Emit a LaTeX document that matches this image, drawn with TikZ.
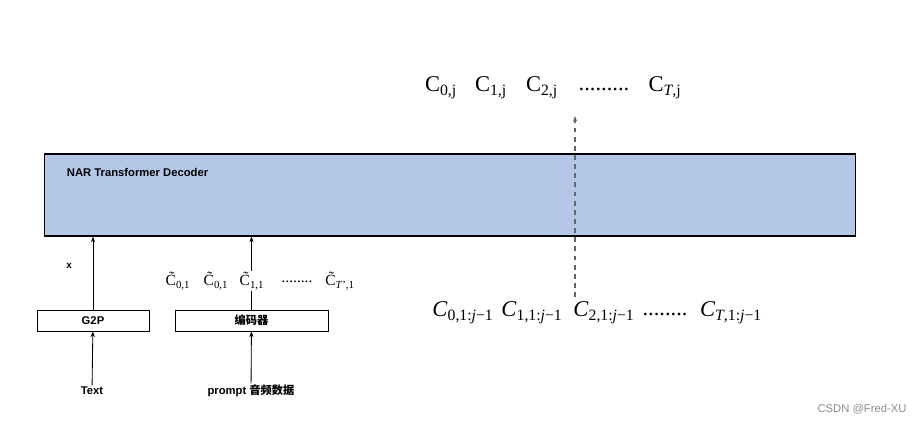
\documentclass[tikz,border=0pt]{standalone}
\usepackage{fontspec}
\setmainfont{Liberation Serif}
\setsansfont{Liberation Sans}
\newfontfamily\cjk{Noto Sans CJK SC}
\usetikzlibrary{arrows.meta,positioning}

\definecolor{decblue}{RGB}{180,199,231}
\newcommand{\smalltext}{\fontsize{8}{9.6}\selectfont\sffamily\bfseries}
\newcommand{\bigC}{\fontsize{16}{19}\selectfont\rmfamily}
\newcommand{\tildeC}{\fontsize{11}{13}\selectfont\rmfamily}

\begin{document}
\begin{tikzpicture}[
    x=0.025cm, y=-0.025cm,
    decbox/.style={rectangle, draw=black, fill=decblue, line width=0.8pt, minimum width=20.25cm, minimum height=2.05cm},
    inbox/.style={rectangle, draw=black, line width=0.6pt, minimum height=0.525cm, font=\smalltext},
    lbl/.style={inner sep=1pt, font=\smalltext},
    toplbl/.style={inner sep=1pt, font=\bigC},
    botlbl/.style={inner sep=1pt, font=\bigC},
    tlbl/.style={inner sep=1pt, fill=white, font=\tildeC},
    arr/.style={-{Stealth[length=4pt,width=3pt]}, line width=0.6pt},
    dasharr/.style={-{Stealth[length=4pt,width=3pt]}, line width=1pt, black!60, dash pattern=on 3.5pt off 3pt}
]
\useasboundingbox (0,0) rectangle (924,423);

% decoder
\node[decbox] (dec) at (450,195) {};
\node[anchor=west, font=\smalltext] (declbl) at (62,172) {NAR Transformer Decoder};

% inputs
\node[inbox, minimum width=2.8cm] (g2p) at (93,320.5) {G2P};
\node[inbox, minimum width=3.825cm] (enc) at (251.5,320.5) {\cjk 编码器};
\node[lbl] (txt) at (92,391) {Text};
\node[lbl] (prm) at (251,391) {prompt {\cjk 音频数据}};
\node[lbl, font=\fontsize{7}{8}\selectfont\sffamily\bfseries] (xlbl) at (69,266) {x};

\draw[arr] (txt) -- (g2p);
\draw[arr] (prm) -- (enc);
\draw[arr] (g2p) -- (g2p |- dec.south);
\draw[arr] (enc) -- (enc |- dec.south);

% prompt codes
\node[tlbl] (t0) at (178,281) {\~C\textsubscript{0,1}};
\node[tlbl] (t1) at (216,281) {\~C\textsubscript{0,1}};
\node[tlbl] (t2) at (252,281) {\~C\textsubscript{1,1}};
\node[tlbl] (tdots) at (297,282) {........};
\node[tlbl] (tT) at (340,281) {\~C\textsubscript{\textit{T}',1}};

% target codes (top)
\node[toplbl] (c0) at (441,88) {C\textsubscript{0,j}};
\node[toplbl] (c1) at (491,88) {C\textsubscript{1,j}};
\node[toplbl] (c2) at (542,88) {C\textsubscript{2,j}};
\node[toplbl] (cdots) at (604,89) {.........};
\node[toplbl] (cT) at (665,88) {C\textsubscript{\textit{T},j}};

% previous codes (bottom)
\node[botlbl] (b0) at (463,313) {\textit{C}\textsubscript{0,1:\textit{j}−1}};
\node[botlbl] (b1) at (532,313) {\textit{C}\textsubscript{1,1:\textit{j}−1}};
\node[botlbl] (b2) at (604,313) {\textit{C}\textsubscript{2,1:\textit{j}−1}};
\node[botlbl] (bdots) at (665,314) {........};
\node[botlbl] (bT) at (731,313) {\textit{C}\textsubscript{\textit{T},1:\textit{j}−1}};

\coordinate (dbot) at (575,297);
\coordinate (dtop) at (575,116);
\draw[dasharr] (dbot) -- (dtop);

% watermark
\node[font=\fontsize{8}{9.6}\selectfont\sffamily, text=black!45] (wm) at (862,409) {CSDN @Fred-XU};
\end{tikzpicture}
\end{document}
